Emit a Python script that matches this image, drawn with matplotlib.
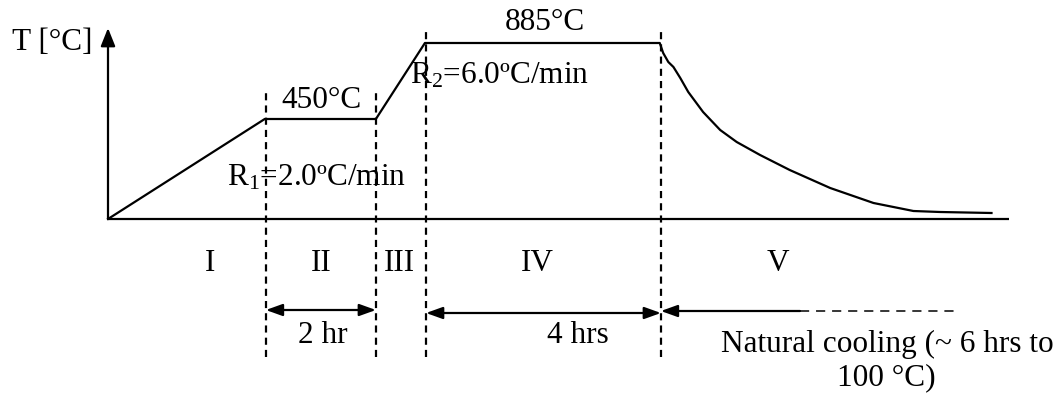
import matplotlib.pyplot as plt

plt.rcParams['font.family'] = ['Liberation Serif', 'DejaVu Serif']
plt.rcParams['mathtext.fontset'] = 'custom'
plt.rcParams['mathtext.rm'] = 'Liberation Serif'
plt.rcParams['mathtext.it'] = 'Liberation Serif'
plt.rcParams['mathtext.default'] = 'rm'

# heat-treatment profile (schematic): time in hours, drawn height of the curve
time_hr = [0, 2.75, 4.70, 5.56, 9.68, 9.74, 9.83, 9.92, 10.04, 10.18, 10.44,
           10.74, 11.03, 11.44, 11.96, 12.67, 13.43, 14.13, 14.60, 15.50]
level = [0, 100, 100, 176, 176, 166, 157, 152, 141, 127, 107,
         89, 77, 64, 49, 31, 16, 8, 7, 6]

# stage boundaries (hours) and stage names
bounds = [2.77, 4.70, 5.58, 9.70]
bound_top = [129, 129, 192, 192]
stage_names = ['I', 'II', 'III', 'IV', 'V']
stage_x = [1.79, 3.75, 5.12, 7.53, 11.75]

fs = 22.5
lw = 1.6

fig = plt.figure(figsize=(10.62, 3.95), dpi=100)
ax = fig.add_axes([0, 0, 1, 1])
ax.set_xlim(-108 / 57, (1062 - 108) / 57)
ax.set_ylim(-176, 219)
ax.axis('off')

# axes of the schematic
ax.plot([0, 15.81], [0, 0], color='black', lw=lw, solid_capstyle='butt')
ax.annotate('', xy=(0, 191), xytext=(0, 0),
            arrowprops=dict(arrowstyle='-|>,head_length=0.55,head_width=0.22',
                            color='black', lw=lw, shrinkA=0, shrinkB=0,
                            mutation_scale=20))

# profile
ax.plot(time_hr, level, color='black', lw=lw, solid_joinstyle='round')

# stage boundaries
for bx, top in zip(bounds, bound_top):
    ax.plot([bx, bx], [-138, top], color='black', lw=1.6,
            linestyle=(0, (3.2, 2.3)))

# labels
ax.text(-0.28, 177, 'T [°C]', fontsize=fs, ha='right', va='center')
ax.text(3.75, 111, '450°C', fontsize=fs, ha='center', va='baseline')
ax.text(7.67, 189, '885°C', fontsize=fs, ha='center', va='baseline')
ax.text(2.09, 34, r'$\mathrm{R}_1$=2.0ºC/min', fontsize=fs, ha='left', va='baseline')
ax.text(5.30, 136, r'$\mathrm{R}_2$=6.0ºC/min', fontsize=fs, ha='left', va='baseline')

for name, sx in zip(stage_names, stage_x):
    ax.text(sx, -52, name, fontsize=fs, ha='center', va='baseline')

# durations
arrow_style = '<|-|>,head_length=0.5,head_width=0.18'
ax.annotate('', xy=(bounds[0], -91), xytext=(bounds[1], -91),
            arrowprops=dict(arrowstyle=arrow_style, color='black', lw=lw,
                            shrinkA=0, shrinkB=0, mutation_scale=20))
ax.annotate('', xy=(bounds[2], -94), xytext=(bounds[3], -94),
            arrowprops=dict(arrowstyle=arrow_style, color='black', lw=lw,
                            shrinkA=0, shrinkB=0, mutation_scale=20))
ax.annotate('', xy=(bounds[3], -92), xytext=(12.14, -92),
            arrowprops=dict(arrowstyle='-|>,head_length=0.5,head_width=0.18',
                            color='black', lw=lw, shrinkA=0, shrinkB=0,
                            mutation_scale=20))
ax.plot([12.14, 14.89], [-92, -92], color='black', lw=1.1,
        linestyle=(0, (6, 4.5)))

ax.text(3.77, -124, '2 hr', fontsize=fs, ha='center', va='baseline')
ax.text(8.25, -124, '4 hrs', fontsize=fs, ha='center', va='baseline')
ax.text(13.68, -133, 'Natural cooling (~ 6 hrs to', fontsize=fs, ha='center', va='baseline')
ax.text(13.65, -166, '100 °C)', fontsize=fs, ha='center', va='baseline')

fig.savefig('out.png', dpi=100)
